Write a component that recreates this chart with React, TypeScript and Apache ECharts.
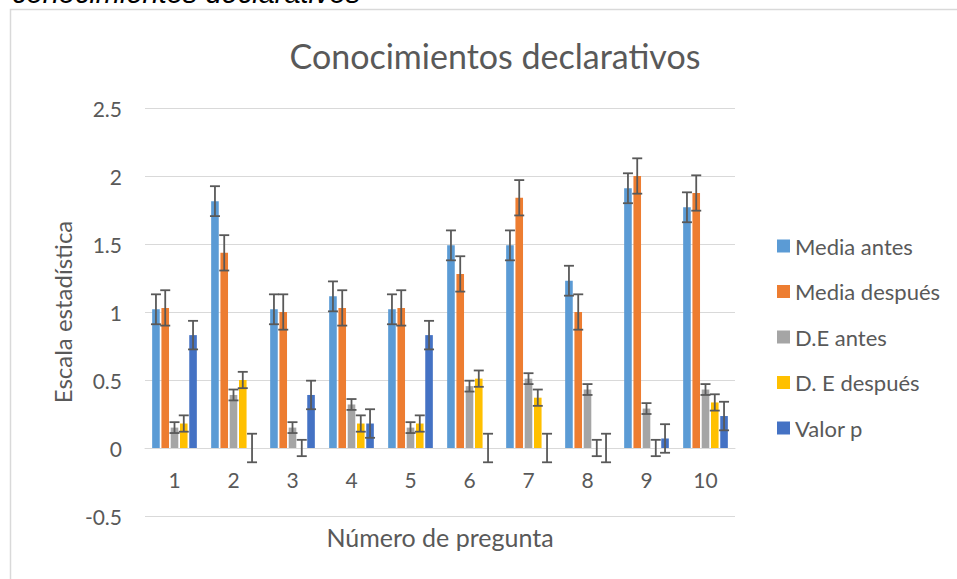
import React, { useEffect, useRef } from "react";
import * as echarts from "echarts";

const categories = ["1", "2", "3", "4", "5", "6", "7", "8", "9", "10"];
const seriesNames = ["Media antes", "Media después", "D.E antes", "D. E después", "Valor p"];
const mediaAntes = [1.02, 1.815, 1.02, 1.115, 1.02, 1.49, 1.49, 1.23, 1.91, 1.77];
const mediaDespues = [1.03, 1.435, 1.0, 1.03, 1.03, 1.28, 1.84, 1.0, 2.0, 1.875];
const deAntes = [0.15, 0.39, 0.15, 0.32, 0.15, 0.455, 0.51, 0.43, 0.29, 0.43];
const deDespues = [0.18, 0.5, 0, 0.18, 0.18, 0.51, 0.37, 0, 0, 0.335];
const valorP = [0.83, 0, 0.39, 0.18, 0.83, 0, 0, 0, 0.07, 0.235];
const errorAmounts = [0.11, 0.13, 0.04, 0.06, 0.105];
const colors = ["#5B9BD5", "#ED7D31", "#A5A5A5", "#FFC000", "#4472C4"];

const FONT = "Lato";
const TXT = "#595959";
const BAR_W = 7.6;
const BAR_GAP_RATIO = 0.22;

export default function App() {
  const ref = useRef<HTMLDivElement>(null);
  useEffect(() => {
    if (!ref.current) return;
    const chart = echarts.init(ref.current, null, { renderer: "svg" });
    const allSeries = [mediaAntes, mediaDespues, deAntes, deDespues, valorP];
    const step = BAR_W * (1 + BAR_GAP_RATIO);

    const bars = allSeries.map((vals, k) => ({
      name: seriesNames[k],
      type: "bar",
      data: vals,
      barWidth: BAR_W,
      barGap: `${BAR_GAP_RATIO * 100}%`,
      itemStyle: { color: colors[k] },
      z: 2,
    }));

    const errs = allSeries.map((vals, k) => ({
      name: "err" + k,
      type: "custom",
      z: 5,
      silent: true,
      data: vals.map((v, i) => [i, v, errorAmounts[k]]),
      encode: { x: 0, y: 1 },
      renderItem: (params: any, api: any) => {
        const i = api.value(0);
        const v = api.value(1);
        const e = api.value(2);
        const top = api.coord([i, v + e]);
        const bot = api.coord([i, v - e]);
        const x = top[0] + (k - 2) * step;
        const cap = 5;
        const st = { stroke: "#595959", lineWidth: 1.8 };
        return {
          type: "group",
          children: [
            { type: "line", shape: { x1: x, y1: top[1], x2: x, y2: bot[1] }, style: st },
            { type: "line", shape: { x1: x - cap, y1: top[1], x2: x + cap, y2: top[1] }, style: st },
            { type: "line", shape: { x1: x - cap, y1: bot[1], x2: x + cap, y2: bot[1] }, style: st },
          ],
        };
      },
    }));

    chart.setOption({
      animation: false,
      backgroundColor: "#ffffff",
      textStyle: { fontFamily: FONT },
      title: {
        text: "Conocimientos declarativos",
        left: 490,
        top: 33,
        textAlign: "center",
        textStyle: { fontFamily: FONT, fontSize: 34, fontWeight: "normal", color: TXT },
      },
      legend: {
        orient: "vertical",
        left: 772,
        top: 228,
        data: seriesNames,
        icon: "rect",
        itemWidth: 13,
        itemHeight: 13,
        itemGap: 19.5,
        textStyle: { fontFamily: FONT, fontSize: 22, color: TXT, lineHeight: 26 },
      },
      grid: { left: 145, right: 222, top: 108, bottom: 63 },
      xAxis: {
        type: "category",
        data: categories,
        offset: -68,
        axisLine: { onZero: false, lineStyle: { color: "#D9D9D9", width: 1 } },
        axisTick: { show: false },
        axisLabel: { fontFamily: FONT, fontSize: 21, color: TXT, margin: 21 },
      },
      yAxis: {
        type: "value",
        min: -0.5,
        max: 2.5,
        interval: 0.5,
        axisLine: { show: false },
        axisTick: { show: false },
        splitLine: { lineStyle: { color: "#D9D9D9", width: 1 } },
        axisLabel: { fontFamily: FONT, fontSize: 21, color: TXT, margin: 23 },
      },
      graphic: [
        {
          type: "rect",
          shape: { x: 10.5, y: 9.5, width: 1200, height: 1200 },
          style: { fill: "none", stroke: "#D9D9D9", lineWidth: 1.5 },
          silent: true,
        },
        {
          type: "text",
          x: 12,
          y: 7,
          style: {
            text: "conocimientos declarativos",
            font: "italic 29px 'Liberation Sans'",
            fill: "#000000",
            verticalAlign: "bottom",
            align: "left",
          },
        },
        {
          type: "text",
          x: 62,
          y: 312,
          rotation: Math.PI / 2,
          style: {
            text: "Escala estadística",
            font: `24px ${FONT}`,
            fill: TXT,
            align: "center",
            verticalAlign: "middle",
          },
        },
        {
          type: "text",
          x: 440,
          y: 537,
          style: {
            text: "Número de pregunta",
            font: `25px ${FONT}`,
            fill: TXT,
            align: "center",
            verticalAlign: "middle",
          },
        },
      ],
      series: [...bars, ...errs],
    });
    return () => chart.dispose();
  }, []);
  return (
    <div
      ref={ref}
      style={{ position: "fixed", left: 0, top: 0, width: 957, height: 579 }}
    />
  );
}
